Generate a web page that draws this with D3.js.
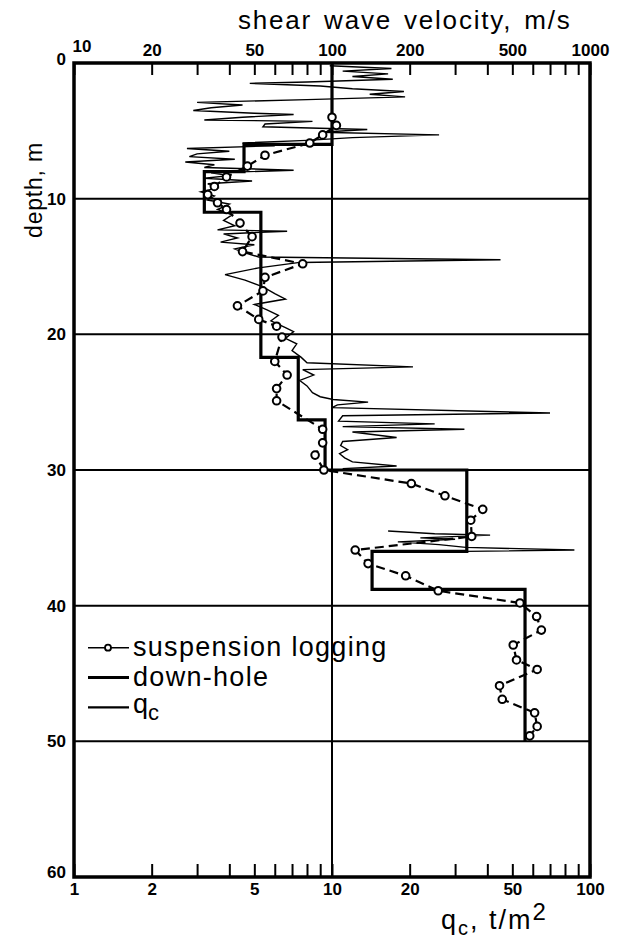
<!DOCTYPE html>
<html>
<head>
<meta charset="utf-8">
<script src="https://cdn.jsdelivr.net/npm/d3@7"></script>
<style>
  body { margin: 0; background: #fff; }
  svg { display: block; }
  text { font-family: "Liberation Sans", Arial, sans-serif; fill: #000; }
</style>
</head>
<body>
<div id="graphContainer"></div>
<script>
// tick labels
var vsLabels = [10, 20, 50, 100, 200, 500, 1000],
    qcLabels = [1, 2, 5, 10, 20, 50, 100],
    depthTicks = [0, 10, 20, 30, 40, 50, 60];

// suspension logging (depth m, Vs m/s)
var suspDepth = [4.0, 4.6, 5.3, 5.9, 6.8, 7.6, 8.4, 9.1, 9.7, 10.3, 10.8, 11.8, 12.8, 13.9, 14.8, 15.8, 16.8, 17.9, 18.9, 19.4, 20.2, 22.0, 23.0, 24.0, 24.9, 27.0, 28.0, 28.9, 30.0, 31.0, 31.9, 32.9, 33.7, 34.9, 35.9, 36.9, 37.8, 38.9, 39.8, 40.8, 41.8, 42.9, 44.0, 44.7, 45.9, 46.9, 47.9, 48.9, 49.6];
var suspVs = [100, 104, 92, 82, 55, 47, 39, 35, 33, 36, 39, 44, 49, 45, 77, 55, 54, 43, 52, 61, 64, 60, 67, 61, 61, 92, 92, 86, 93, 203, 274, 384, 345, 348, 123, 138, 193, 258, 535, 621, 648, 504, 519, 624, 446, 457, 610, 624, 584];

// down-hole steps: layer boundaries and velocity of each layer
var dhDepth = [0, 6, 8, 11, 21.7, 26.3, 30, 36, 38.8, 50];
var dhVs = [100, 45.6, 32, 53, 74, 94, 333, 143, 560];

// cone resistance qc (t/m2), null = gap in record
var qcDepth = [0.2, 0.4, 0.6, 0.8, 1.0, 1.2, 1.4, 1.5, 1.7, 1.9, 2.1, 2.3, 2.5, 2.7, 2.9, 3.1, 3.3, 3.5, 3.7, 3.8, 4.0, 4.2, 4.3, 4.5, 4.7, 4.9, 5.1, 5.3, 5.5, 5.7, 5.9, 6.1, 6.3, 6.5, 6.7, 6.9, 7.1, 7.3, 7.5, 7.7, 7.9, 8.1, 8.3, 8.5, 8.7, 8.9, 9.2, 9.5, 9.8, 10.1, 10.4, 10.8, 11.2, 11.6, 12.0, 12.3, 12.4, 12.6, 12.9, 13.2, 13.4, 13.7, 14.0, 14.3, 14.5, 14.7, 15.1, 15.6, 16.0, 16.5, 17.0, 17.4, 17.8, 18.2, 18.6, 19.0, 19.5, 19.8, 20.3, 20.7, 21.2, 21.7, 22.1, 22.4, 22.6, 23.0, 23.4, 23.8, 24.3, 24.6, 24.8, 25.0, 25.2, 25.4, 25.8, 26.0, 26.4, 26.6, 26.8, 27.0, 27.2, 27.6, 27.9, 28.2, 28.5, 28.8, 29.1, 29.4, 29.7, 29.9,
               null,
               34.5, 34.7, 34.8, 35.0, 35.1, 35.3, 35.5, 35.7, 35.9, 36.0];
var qcVal = [9.8, 17, 11, 16.5, 12, 17.2, 8, 4.8, 9, 12, 19, 14, 19.2, 8, 3.0, 4.5, 3.4, 2.9, 5, 7.1, 4.5, 3.2, 8.4, 5.5, 5.4, 13.7, 9, 26, 12, 8, 4.5, 6, 2.74, 4, 3, 2.8, 4.2, 2.7, 3.5, 3.2, 7.1, 3.4, 4.0, 3.2, 4.9, 3.3, 3.6, 3.1, 3.5, 3.3, 4.0, 3.6, 4.1, 3.8, 4.2, 3.6, 6.7, 3.8, 4.3, 3.7, 5.0, 4.2, 4.6, 5.2, 45, 7.5, 5.2, 3.85, 4.6, 5.4, 6.0, 6.6, 5.0, 5.6, 6.2, 5.8, 6.6, 7.1, 6.6, 7.3, 7.0, 7.6, 8.0, 20.6, 7.7, 8.5, 7.5, 8.0, 8.4, 9.0, 10.1, 13.8, 10.5, 10.0, 70, 11, 10.6, 25, 11, 32.6, 12, 17.8, 11, 10.8, 11.5, 10.7, 11.2, 12, 17.8, 11,
             null,
             16.5, 25, 41, 22, 30, 18, 26, 33, 87, 33];

var width = 617, height = 943,
    plotL = 74, plotR = 590, plotT = 63, plotB = 877;

var svg = d3.select("#graphContainer").append("svg")
    .attr("width", width).attr("height", height);

var xV = d3.scaleLog().domain([10, 1000]).range([plotL, plotR]),
    xQ = d3.scaleLog().domain([1, 100]).range([plotL, plotR]),
    y = d3.scaleLinear().domain([0, 60]).range([plotT, plotB]);

// every 1..9 x decade position for the small ticks
function logTicks(lo, hi) {
    var t = [];
    for (var p = lo; p < hi; p *= 10)
        for (var k = 1; k < 10; k++) t.push(p * k);
    t.push(hi);
    return t;
}

// depth grid lines
svg.append("g").selectAll("line")
    .data(depthTicks.slice(1, -1))
    .enter().append("line")
    .attr("x1", plotL).attr("x2", plotR)
    .attr("y1", function (d) { return y(d); })
    .attr("y2", function (d) { return y(d); })
    .attr("stroke", "#000").attr("stroke-width", 2);

// 100 m/s vertical line
svg.append("line")
    .attr("x1", xV(100)).attr("x2", xV(100))
    .attr("y1", plotT).attr("y2", plotB)
    .attr("stroke", "#000").attr("stroke-width", 2);

// top axis: shear wave velocity
var topAxis = d3.axisTop(xV)
    .tickValues(logTicks(10, 1000))
    .tickSize(-12).tickPadding(7)
    .tickFormat(function (d) { return vsLabels.indexOf(d) >= 0 ? d : ""; });
var gTop = svg.append("g").attr("transform", "translate(0," + plotT + ")").call(topAxis);

// bottom axis: qc
var botAxis = d3.axisBottom(xQ)
    .tickValues(logTicks(1, 100))
    .tickSize(-13).tickPadding(6)
    .tickFormat(function (d) { return qcLabels.indexOf(d) >= 0 ? d : ""; });
var gBot = svg.append("g").attr("transform", "translate(0," + plotB + ")").call(botAxis);

// left axis: depth
var leftAxis = d3.axisLeft(y).tickValues(depthTicks).tickSize(0).tickPadding(8);
var gLeft = svg.append("g").attr("transform", "translate(" + plotL + ",0)").call(leftAxis);

[gTop, gBot, gLeft].forEach(function (g) {
    g.select(".domain").remove();
    g.selectAll(".tick line").attr("stroke", "#000").attr("stroke-width", 2);
    g.selectAll(".tick text")
        .style("font-family", "'Liberation Sans', Arial, sans-serif")
        .style("font-size", "17px").style("font-weight", "bold");
});
gTop.selectAll(".tick text").filter(function (d) { return d === 10; })
    .attr("text-anchor", "start").attr("x", -2).attr("y", -11);
gLeft.selectAll(".tick text").filter(function (d) { return d === 0; }).attr("dy", "0.1em");
gLeft.selectAll(".tick text").filter(function (d) { return d === 60; }).attr("dy", "0.05em");

// qc trace
var qcPts = qcDepth.map(function (d, i) { return d === null ? null : [qcVal[i], d]; });
svg.append("path")
    .datum(qcPts)
    .attr("d", d3.line()
        .defined(function (p) { return p !== null; })
        .x(function (p) { return xQ(p[0]); })
        .y(function (p) { return y(p[1]); }))
    .attr("fill", "none").attr("stroke", "#000").attr("stroke-width", 1.4)
    .attr("stroke-linejoin", "miter");

// down-hole step profile
var dhPts = [];
dhVs.forEach(function (v, i) {
    dhPts.push([v, dhDepth[i]]);
    dhPts.push([v, dhDepth[i + 1]]);
});
svg.append("path")
    .datum(dhPts)
    .attr("d", d3.line()
        .x(function (p) { return xV(p[0]); })
        .y(function (p) { return y(p[1]); }))
    .attr("fill", "none").attr("stroke", "#000").attr("stroke-width", 3.2);

// suspension logging
var suspPts = suspDepth.map(function (d, i) { return [suspVs[i], d]; });
svg.append("path")
    .datum(suspPts)
    .attr("d", d3.line()
        .x(function (p) { return xV(p[0]); })
        .y(function (p) { return y(p[1]); }))
    .attr("fill", "none").attr("stroke", "#000").attr("stroke-width", 2.2)
    .attr("stroke-dasharray", "9,5");
svg.append("g").selectAll("circle")
    .data(suspPts)
    .enter().append("circle")
    .attr("cx", function (p) { return xV(p[0]); })
    .attr("cy", function (p) { return y(p[1]); })
    .attr("r", 3.8)
    .attr("fill", "#fff").attr("stroke", "#000").attr("stroke-width", 2);

// frame
svg.append("rect")
    .attr("x", plotL).attr("y", plotT)
    .attr("width", plotR - plotL).attr("height", plotB - plotT)
    .attr("fill", "none").attr("stroke", "#000").attr("stroke-width", 3.5);

// titles
svg.append("text")
    .attr("x", 238).attr("y", 29)
    .style("font-size", "26px").style("letter-spacing", "1.8px").style("word-spacing", "3px")
    .text("shear wave velocity, m/s");

svg.append("text")
    .attr("transform", "translate(42,190) rotate(-90)")
    .attr("text-anchor", "middle")
    .style("font-size", "23px").style("letter-spacing", "0.8px")
    .text("depth, m");

var qcTitle = svg.append("text")
    .attr("x", 441).attr("y", 929)
    .style("font-size", "27px").style("letter-spacing", "2px");
qcTitle.append("tspan").text("q");
qcTitle.append("tspan").attr("dy", 6).style("font-size", "20px").text("c");
qcTitle.append("tspan").attr("dy", -6).text(", t/m");
qcTitle.append("tspan").attr("dy", -9).style("font-size", "24px").text("2");

// legend
var legend = svg.append("g").attr("transform", "translate(88,0)");
var legY = [y(43.1), y(45.3), y(47.5)];

legend.append("line").attr("x1", 0).attr("x2", 41).attr("y1", legY[0]).attr("y2", legY[0])
    .attr("stroke", "#000").attr("stroke-width", 1.6);
legend.append("circle").attr("cx", 20).attr("cy", legY[0]).attr("r", 3)
    .attr("fill", "#fff").attr("stroke", "#000").attr("stroke-width", 1.8);
legend.append("line").attr("x1", 0).attr("x2", 41).attr("y1", legY[1]).attr("y2", legY[1])
    .attr("stroke", "#000").attr("stroke-width", 3);
legend.append("line").attr("x1", 0).attr("x2", 41).attr("y1", legY[2]).attr("y2", legY[2])
    .attr("stroke", "#000").attr("stroke-width", 2.2);

var legText = ["suspension logging", "down-hole"];
legText.forEach(function (t, i) {
    legend.append("text").attr("x", 45).attr("y", legY[i] + 8)
        .style("font-size", "27px").style("letter-spacing", "1.3px").text(t);
});
var qcLeg = legend.append("text").attr("x", 45).attr("y", legY[2] + 6)
    .style("font-size", "27px");
qcLeg.append("tspan").text("q");
qcLeg.append("tspan").attr("dy", 7).style("font-size", "22px").text("c");
</script>
</body>
</html>
